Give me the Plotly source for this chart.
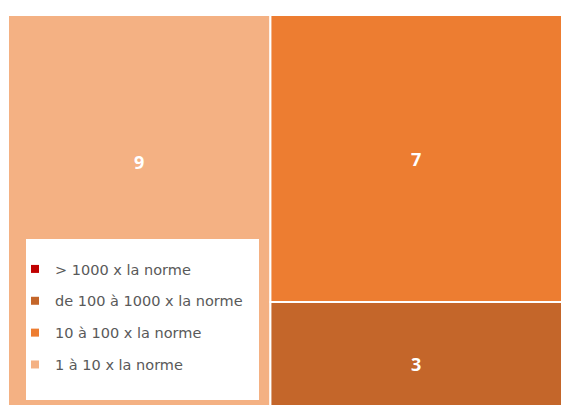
import plotly.graph_objects as go

categories = ["> 1000 x la norme", "de 100 à 1000 x la norme", "10 à 100 x la norme", "1 à 10 x la norme"]
values = [0, 3, 7, 9]
colors = ["#C00000", "#C4662A", "#ED7D31", "#F4B183"]

tm_labels = [c for c, v in zip(categories, values) if v > 0]
tm_values = [v for v in values if v > 0]
tm_colors = [col for col, v in zip(colors, values) if v > 0]

# the label of the largest tile sits above the legend, as in the original
big = max(tm_values)
tm_text = [f"<b>{v}</b>" + ("<br>\u00a0" * 5 if v == big else "") for v in tm_values]

W, H = 562, 425
ML, MR, MT, MB = 8, 0, 15, 0
PW, PH = W - ML - MR, H - MT - MB


def px_x(x):
    return (x - ML) / PW


def px_y(y):
    return (H - MB - y) / PH


fig = go.Figure()
fig.add_trace(go.Treemap(
    labels=tm_labels,
    parents=[""] * len(tm_labels),
    values=tm_values,
    text=tm_text,
    marker=dict(colors=tm_colors, line=dict(color="white", width=2),
                pad=dict(t=0, l=0, r=0, b=0)),
    texttemplate="%{text}",
    textposition="middle center",
    textfont=dict(color="white", size=18, family="Open Sans"),
    sort=True,
    tiling=dict(packing="squarify", pad=0),
    pathbar=dict(visible=False),
    hoverinfo="label+value",
    domain=dict(x=[0, 1], y=[0, 1]),
))

for c, col in zip(categories, colors):
    fig.add_trace(go.Scatter(
        x=[None], y=[None], mode="markers",
        marker=dict(symbol="square", size=8, color=col),
        name=c, legendgroup=c, showlegend=True,
    ))

fig.update_layout(
    width=W, height=H,
    margin=dict(l=ML, r=MR, t=MT, b=MB),
    paper_bgcolor="white", plot_bgcolor="rgba(0,0,0,0)",
    xaxis=dict(visible=False), yaxis=dict(visible=False),
    showlegend=True,
    legend=dict(
        x=px_x(15), xanchor="left",
        y=px_y(253), yanchor="top",
        bgcolor="rgba(0,0,0,0)",
        font=dict(family="DejaVu Sans", size=14.5, color="#595959"),
        traceorder="grouped", tracegroupgap=10,
    ),
    shapes=[dict(type="rect", xref="paper", yref="paper",
                 x0=px_x(26), x1=px_x(259),
                 y0=px_y(400), y1=px_y(239),
                 fillcolor="white", line=dict(width=0), layer="above")],
)

fig.write_html("out.html",
               config=dict(displayModeBar=False),
               post_script="document.body.style.margin='0';document.body.style.overflow='hidden';")
